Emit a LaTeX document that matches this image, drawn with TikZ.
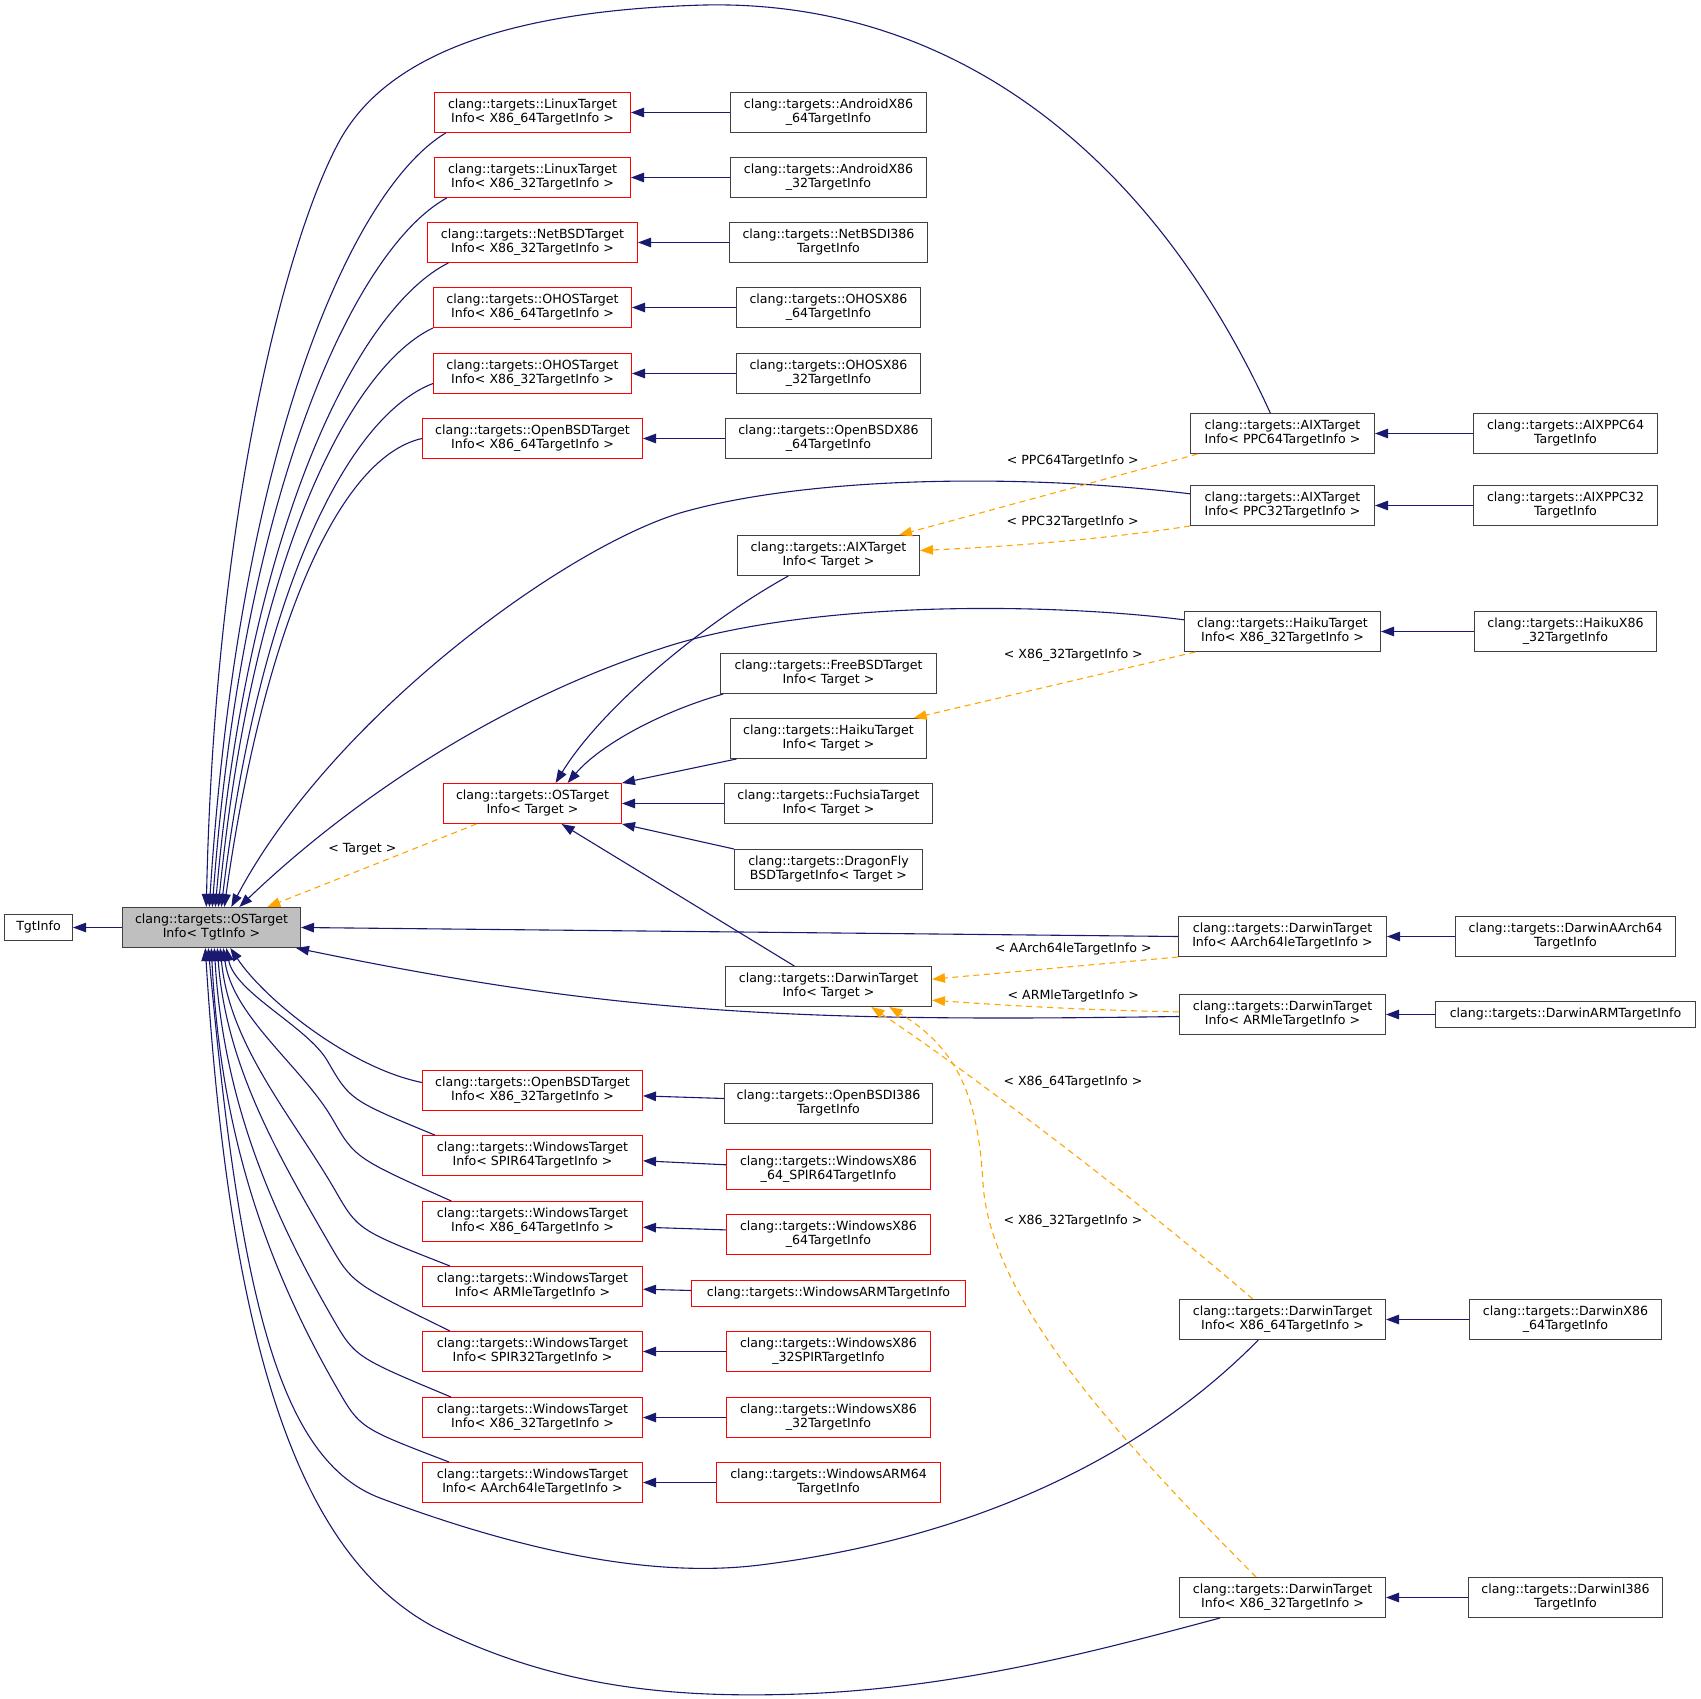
\documentclass[tikz,border=0pt]{standalone}
\usepackage{fontspec}
\setmainfont{DejaVu Sans}
\usetikzlibrary{arrows.meta,calc}
\definecolor{edgeblue}{HTML}{191970}
\definecolor{edgeorange}{HTML}{FFA500}
\definecolor{boxred}{HTML}{FF0000}
\definecolor{boxgray}{HTML}{BFBFBF}
\definecolor{boxline}{HTML}{404040}
\begin{document}
\begin{tikzpicture}[x=1pt,y=-1pt,
  box/.style={draw=boxline, line width=1pt, fill=white, align=center, inner sep=0pt, minimum height=40pt, font=\fontsize{12.6}{14}\selectfont},
  redbox/.style={box, draw=boxred},
  onebox/.style={minimum height=26pt},
  lbl/.style={font=\fontsize{12.6}{14}\selectfont, inner sep=0pt},
  blueedge/.style={draw=edgeblue, line width=1.1pt, -{Triangle[length=13pt,width=9.5pt]}},
  orangeedge/.style={draw=edgeorange, line width=1.1pt, dash pattern=on 6pt off 4.5pt, -{Triangle[length=13pt,width=9.5pt]}}]
\useasboundingbox (0,0) rectangle (1701,1699);

% ---- nodes ----
\node[box, onebox, minimum width=68pt] (tgt) at (38.5,927.5) {TgtInfo};
\node[box, fill=boxgray, minimum width=178pt] (P) at (211.5,927.5) {clang::targets::OSTarget\\Info< TgtInfo >};

% column A
\node[redbox, minimum width=196pt] (lx64) at (532.5,112.5) {clang::targets::LinuxTarget\\Info< X86\_64TargetInfo >};
\node[redbox, minimum width=196pt] (lx32) at (532.5,177.5) {clang::targets::LinuxTarget\\Info< X86\_32TargetInfo >};
\node[redbox, minimum width=210pt] (nb32) at (532.5,242.5) {clang::targets::NetBSDTarget\\Info< X86\_32TargetInfo >};
\node[redbox, minimum width=198pt] (oh64) at (532.5,307.5) {clang::targets::OHOSTarget\\Info< X86\_64TargetInfo >};
\node[redbox, minimum width=198pt] (oh32) at (532.5,373.5) {clang::targets::OHOSTarget\\Info< X86\_32TargetInfo >};
\node[redbox, minimum width=220pt] (ob64) at (532.5,438.5) {clang::targets::OpenBSDTarget\\Info< X86\_64TargetInfo >};
\node[redbox, minimum width=178pt] (Q) at (532.5,803.5) {clang::targets::OSTarget\\Info< Target >};
\node[redbox, minimum width=220pt] (ob32) at (532.5,1090.5) {clang::targets::OpenBSDTarget\\Info< X86\_32TargetInfo >};
\node[redbox, minimum width=220pt] (ws64) at (532.5,1155.5) {clang::targets::WindowsTarget\\Info< SPIR64TargetInfo >};
\node[redbox, minimum width=220pt] (wx64) at (532.5,1221.5) {clang::targets::WindowsTarget\\Info< X86\_64TargetInfo >};
\node[redbox, minimum width=220pt] (warm) at (532.5,1286.5) {clang::targets::WindowsTarget\\Info< ARMleTargetInfo >};
\node[redbox, minimum width=220pt] (ws32) at (532.5,1351.5) {clang::targets::WindowsTarget\\Info< SPIR32TargetInfo >};
\node[redbox, minimum width=220pt] (wx32) at (532.5,1417.5) {clang::targets::WindowsTarget\\Info< X86\_32TargetInfo >};
\node[redbox, minimum width=220pt] (wa64) at (532.5,1482.5) {clang::targets::WindowsTarget\\Info< AArch64leTargetInfo >};

% column B
\node[box, minimum width=196pt] (and64) at (828.5,112.5) {clang::targets::AndroidX86\\\_64TargetInfo};
\node[box, minimum width=196pt] (and32) at (828.5,177.5) {clang::targets::AndroidX86\\\_32TargetInfo};
\node[box, minimum width=198pt] (nbi386) at (828.5,242.5) {clang::targets::NetBSDI386\\TargetInfo};
\node[box, minimum width=184pt] (ohx64) at (828.5,307.5) {clang::targets::OHOSX86\\\_64TargetInfo};
\node[box, minimum width=184pt] (ohx32) at (828.5,373.5) {clang::targets::OHOSX86\\\_32TargetInfo};
\node[box, minimum width=206pt] (obx64) at (828.5,438.5) {clang::targets::OpenBSDX86\\\_64TargetInfo};
\node[box, minimum width=182pt] (aixT) at (828.5,555.5) {clang::targets::AIXTarget\\Info< Target >};
\node[box, minimum width=216pt] (fbT) at (828.5,673.5) {clang::targets::FreeBSDTarget\\Info< Target >};
\node[box, minimum width=196pt] (hkT) at (828.5,738.5) {clang::targets::HaikuTarget\\Info< Target >};
\node[box, minimum width=208pt] (fuT) at (828.5,803.5) {clang::targets::FuchsiaTarget\\Info< Target >};
\node[box, minimum width=188pt] (dfT) at (828.5,869.5) {clang::targets::DragonFly\\BSDTargetInfo< Target >};
\node[box, minimum width=206pt] (dwT) at (828.5,986.5) {clang::targets::DarwinTarget\\Info< Target >};
\node[box, minimum width=208pt] (obi386) at (828.5,1103.5) {clang::targets::OpenBSDI386\\TargetInfo};
\node[redbox, minimum width=204pt] (wx64s) at (828.5,1169.5) {clang::targets::WindowsX86\\\_64\_SPIR64TargetInfo};
\node[redbox, minimum width=204pt] (wx64t) at (828.5,1234.5) {clang::targets::WindowsX86\\\_64TargetInfo};
\node[redbox, onebox, minimum width=274pt] (warmt) at (828.5,1293.5) {clang::targets::WindowsARMTargetInfo};
\node[redbox, minimum width=204pt] (wx32s) at (828.5,1351.5) {clang::targets::WindowsX86\\\_32SPIRTargetInfo};
\node[redbox, minimum width=204pt] (wx32t) at (828.5,1417.5) {clang::targets::WindowsX86\\\_32TargetInfo};
\node[redbox, minimum width=224pt] (warm64t) at (828.5,1482.5) {clang::targets::WindowsARM64\\TargetInfo};

% column C
\node[box, minimum width=184pt] (aix64) at (1282.5,433.5) {clang::targets::AIXTarget\\Info< PPC64TargetInfo >};
\node[box, minimum width=184pt] (aix32) at (1282.5,505.5) {clang::targets::AIXTarget\\Info< PPC32TargetInfo >};
\node[box, minimum width=196pt] (hk32) at (1282.5,631.5) {clang::targets::HaikuTarget\\Info< X86\_32TargetInfo >};
\node[box, minimum width=208pt] (dwa64) at (1282.5,936.5) {clang::targets::DarwinTarget\\Info< AArch64leTargetInfo >};
\node[box, minimum width=206pt] (dwarm) at (1282.5,1014.5) {clang::targets::DarwinTarget\\Info< ARMleTargetInfo >};
\node[box, minimum width=206pt] (dwx64) at (1282.5,1319.5) {clang::targets::DarwinTarget\\Info< X86\_64TargetInfo >};
\node[box, minimum width=206pt] (dwx32) at (1282.5,1597.5) {clang::targets::DarwinTarget\\Info< X86\_32TargetInfo >};

% column D
\node[box, minimum width=184pt] (aixppc64) at (1565.5,433.5) {clang::targets::AIXPPC64\\TargetInfo};
\node[box, minimum width=184pt] (aixppc32) at (1565.5,505.5) {clang::targets::AIXPPC32\\TargetInfo};
\node[box, minimum width=182pt] (hkx32) at (1565.5,631.5) {clang::targets::HaikuX86\\\_32TargetInfo};
\node[box, minimum width=220pt] (dwaa64) at (1565.5,936.5) {clang::targets::DarwinAArch64\\TargetInfo};
\node[box, onebox, minimum width=260pt] (dwarmt) at (1565.5,1014.5) {clang::targets::DarwinARMTargetInfo};
\node[box, minimum width=192pt] (dwx64t) at (1565.5,1319.5) {clang::targets::DarwinX86\\\_64TargetInfo};
\node[box, minimum width=194pt] (dwi386) at (1565.5,1597.5) {clang::targets::DarwinI386\\TargetInfo};

% ---- labels ----
\node[lbl] (l1) at (1072.8,460.7) {< PPC64TargetInfo >};
\node[lbl] (l2) at (1072.7,521.7) {< PPC32TargetInfo >};
\node[lbl] (l3) at (1073.3,655) {< X86\_32TargetInfo >};
\node[lbl] (l4) at (1073.3,949.3) {< AArch64leTargetInfo >};
\node[lbl] (l5) at (1073.3,995.7) {< ARMleTargetInfo >};
\node[lbl] (l6) at (1073,1081.7) {< X86\_64TargetInfo >};
\node[lbl] (l7) at (1073,1220.7) {< X86\_32TargetInfo >};
\node[lbl] (l8) at (362.3,849.4) {< Target >};

% ---- straight blue edges ----
\draw[blueedge] (P.west) -- (tgt.east);
\draw[blueedge] (and64.west) -- (lx64.east);
\draw[blueedge] (and32.west) -- (lx32.east);
\draw[blueedge] (nbi386.west) -- (nb32.east);
\draw[blueedge] (ohx64.west) -- (oh64.east);
\draw[blueedge] (ohx32.west) -- (oh32.east);
\draw[blueedge] (obx64.west) -- (ob64.east);
\draw[blueedge] ($(obi386.west)+(0,-5)$) -- ($(ob32.east)+(0,5.4)$);
\draw[blueedge] ($(wx64s.west)+(0,-4.7)$) -- ($(ws64.east)+(0,5.3)$);
\draw[blueedge] ($(wx64t.west)+(0,-4.6)$) -- ($(wx64.east)+(0,5.7)$);
\draw[blueedge] ($(warmt.west)+(0,-3)$) -- ($(warm.east)+(0,2.7)$);
\draw[blueedge] (wx32s.west) -- (ws32.east);
\draw[blueedge] (wx32t.west) -- (wx32.east);
\draw[blueedge] (warm64t.west) -- (wa64.east);
\draw[blueedge] (aixppc64.west) -- (aix64.east);
\draw[blueedge] (aixppc32.west) -- (aix32.east);
\draw[blueedge] (hkx32.west) -- (hk32.east);
\draw[blueedge] (dwaa64.west) -- (dwa64.east);
\draw[blueedge] (dwarmt.west) -- (dwarm.east);
\draw[blueedge] (dwx64t.west) -- (dwx64.east);
\draw[blueedge] (dwi386.west) -- (dwx32.east);

% ---- edges into OSTarget<Target> ----
\draw[blueedge] ($(aixT.south west)+(51.3,0)$) .. controls (700,625) and (600,710) .. ($(Q.north west)+(112.6,0)$);
\draw[blueedge] ($(fbT.south west)+(3.3,0)$) .. controls (660,712) and (600,745) .. ($(Q.north west)+(124.6,0)$);
\draw[blueedge] ($(hkT.south west)+(6.4,0)$) -- (Q.north east);
\draw[blueedge] (fuT.west) -- (Q.east);
\draw[blueedge] (dfT.north west) -- (Q.south east);
\draw[blueedge] ($(dwT.north west)+(69.3,0)$) -- ($(Q.south west)+(118.6,0)$);

% ---- edges into OSTarget<TgtInfo>, upper ----
\draw[blueedge] ($(aix64.north west)+(80.3,0)$) .. controls (1150,150) and (950,0) .. (705,5)
   .. controls (520,10) and (390,50) .. (340,140)
   .. controls (290,230) and (215,500) .. ($(P.north west)+(84.3,0)$);
\draw[blueedge] ($(lx64.south west)+(11.7,0)$) .. controls (357,186) and (240,430) .. ($(P.north west)+(87.3,0)$);
\draw[blueedge] ($(lx32.south west)+(12.7,0)$) .. controls (358,247) and (244,480) .. ($(P.north west)+(90.3,0)$);
\draw[blueedge] ($(nb32.south west)+(21.3,0)$) .. controls (360,307) and (249,520) .. ($(P.north west)+(93.3,0)$);
\draw[blueedge] (oh64.south west) .. controls (350,367) and (252,560) .. ($(P.north west)+(96.3,0)$);
\draw[blueedge] ($(oh32.west)+(0,10)$) .. controls (345,417) and (258,600) .. ($(P.north west)+(99.3,0)$);
\draw[blueedge] (ob64.west) .. controls (335,458) and (262,640) .. ($(P.north west)+(102.3,0)$);
\draw[blueedge] ($(aix32.west)+(0,-11.7)$) .. controls (1010,472) and (800,478) .. (680,513)
   .. controls (560,550) and (330,720) .. ($(P.north west)+(109.3,0)$);
\draw[blueedge] ($(hk32.west)+(0,-11.7)$) .. controls (1050,603) and (820,600) .. (672,645)
   .. controls (480,705) and (330,820) .. ($(P.north west)+(117.3,0)$);
\draw[blueedge] (dwa64.west) -- (P.east);
\draw[blueedge] ($(dwarm.west)+(0,2)$) .. controls (800,1022) and (620,1015) .. ($(P.south east)+(-5,0)$);

% ---- edges into OSTarget<TgtInfo>, lower ----
\draw[blueedge] ($(ob32.west)+(0,-8)$) .. controls (350,1068) and (265,1000) .. ($(P.south west)+(108.3,0)$);
\draw[blueedge] ($(ws64.north west)+(12.7,0)$) .. controls (350,1100) and (350,1100) .. (327.5,1061)
   .. controls (307.9,1027) and (235,993) .. ($(P.south west)+(104.3,0)$);
\draw[blueedge] ($(wx64.north west)+(29.3,0)$) .. controls (355,1158) and (355,1158) .. (332.5,1119)
   .. controls (302.8,1067.6) and (232,1016.2) .. ($(P.south west)+(101.3,0)$);
\draw[blueedge] ($(warm.north west)+(28,0)$) .. controls (358,1230) and (358,1230) .. (335.5,1191)
   .. controls (293.4,1118) and (229,1045) .. ($(P.south west)+(98.3,0)$);
\draw[blueedge] ($(ws32.north west)+(28,0)$) .. controls (352,1283) and (352,1283) .. (329.5,1244)
   .. controls (278.2,1155.1) and (226,1066.2) .. ($(P.south west)+(95.3,0)$);
\draw[blueedge] ($(wx32.north west)+(29,0)$) .. controls (355,1357) and (355,1357) .. (332.5,1318)
   .. controls (268.4,1206.9) and (223,1095.8) .. ($(P.south west)+(92.3,0)$);
\draw[blueedge] ($(wa64.north west)+(27,0)$) .. controls (360,1428) and (360,1428) .. (337.5,1389)
   .. controls (261.1,1256.6) and (220,1124.2) .. ($(P.south west)+(89.3,0)$);
\draw[blueedge] ($(dwx64.south west)+(79.3,0)$) .. controls (1160,1440) and (1000,1535) .. (760,1565)
   .. controls (640,1580) and (500,1543) .. (380,1498)
   .. controls (280,1460) and (240,1300) .. ($(P.south west)+(86.3,0)$);
\draw[blueedge] ($(dwx32.south west)+(41,0)$) .. controls (1100,1650) and (960,1688) .. (800,1694)
   .. controls (680,1698) and (560,1690) .. (434,1627)
   .. controls (310,1560) and (232,1380) .. ($(P.south west)+(83.3,0)$);

% ---- orange template edges ----
\draw[orangeedge] ($(Q.south west)+(33.4,0)$) -- ($(P.north west)+(145.3,0)$);
\draw[orangeedge] ($(aix64.south west)+(7.6,0)$) -- ($(aixT.north east)+(-21,0)$);
\draw[orangeedge] (aix32.south west) .. controls (1100,540) and (1000,547) .. ($(aixT.east)+(0,-5)$);
\draw[orangeedge] ($(hk32.south west)+(11.4,0)$) -- ($(hkT.north east)+(-13.4,0)$);
\draw[orangeedge] (dwa64.south west) -- ($(dwT.east)+(0,-7.3)$);
\draw[orangeedge] ($(dwarm.west)+(0,-2.6)$) .. controls (1080,1010) and (1000,1005) .. ($(dwT.east)+(0,13.7)$);
\draw[orangeedge] ($(dwx64.north west)+(73.6,0)$) .. controls (1150,1210) and (980,1080) .. ($(dwT.south west)+(146.3,0)$);
\draw[orangeedge] ($(dwx32.north west)+(77,0)$) .. controls (1120,1440) and (990,1300) .. (983,1183)
   .. controls (978,1100) and (960,1050) .. ($(dwT.south west)+(164.3,0)$);
\end{tikzpicture}
\end{document}
